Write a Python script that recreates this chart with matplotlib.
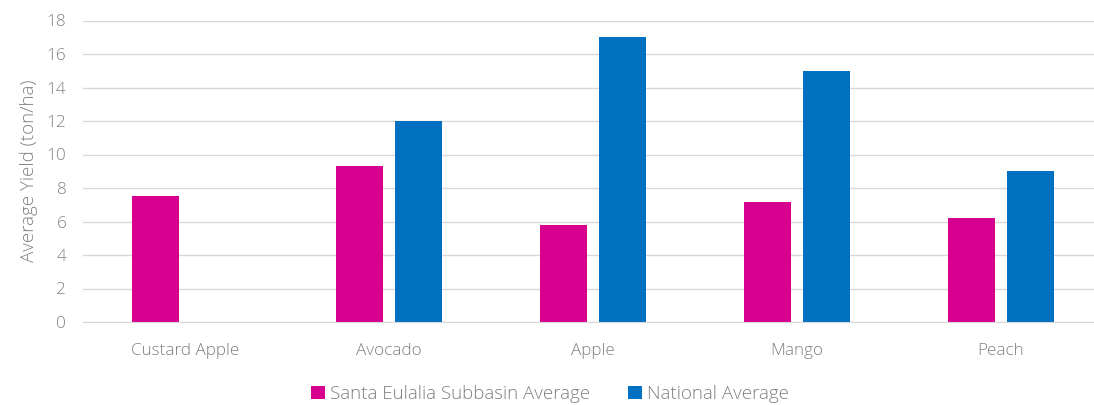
import matplotlib
matplotlib.use("Agg")
import matplotlib.pyplot as plt
import numpy as np

categories = ["Custard Apple", "Avocado", "Apple", "Mango", "Peach"]
santa_eulalia = [7.5, 9.3, 5.8, 7.15, 6.2]
national = [np.nan, 12.0, 17.0, 15.0, 9.0]
yticks = list(range(0, 19, 2))

PINK = "#D8008F"
BLUE = "#0070C0"
TEXT = "#808080"
GRID = "#D9D9D9"

plt.rcParams["font.family"] = ["Open Sans", "DejaVu Sans"]

fig = plt.figure(figsize=(10.94, 4.05), dpi=100)
ax = fig.add_axes([83 / 1094, 1 - 322 / 405, 1020 / 1094, (322 - 20.5) / 405])

x = np.arange(len(categories))
w = 0.23
off = 0.145
ax.bar(x - off, santa_eulalia, width=w, color=PINK, label="Santa Eulalia Subbasin Average", zorder=3)
ax.bar(x + off, national, width=w, color=BLUE, label="National Average", zorder=3)

ax.set_xlim(-0.5, len(categories) - 0.5)
ax.set_ylim(0, 18)
ax.set_yticks(yticks)
ax.set_xticks(x)
ax.set_xticklabels(categories)
ax.tick_params(axis="both", length=0, labelsize=12.3, colors=TEXT, labelcolor=TEXT)
ax.tick_params(axis="y", pad=12)
ax.tick_params(axis="x", pad=15)
for lbl in ax.get_xticklabels() + ax.get_yticklabels():
    lbl.set_fontweight("light")

ax.yaxis.grid(True, color=GRID, linewidth=1, zorder=0)
for side in ["top", "right", "left"]:
    ax.spines[side].set_visible(False)
ax.spines["bottom"].set_color(GRID)
ax.spines["bottom"].set_zorder(4)

ax.set_ylabel("Average Yield (ton/ha)", color=TEXT, fontsize=13.5, fontweight="light", labelpad=6)

leg = fig.legend(loc="center", bbox_to_anchor=(550 / 1094, 1 - 394 / 405), ncol=2, frameon=False,
                 fontsize=13.5, handlelength=0.75, handleheight=0.75, handletextpad=0.28,
                 columnspacing=2.0)
for t in leg.get_texts():
    t.set_color(TEXT)
    t.set_fontweight("light")

fig.savefig("out.png", dpi=100, facecolor="white")
